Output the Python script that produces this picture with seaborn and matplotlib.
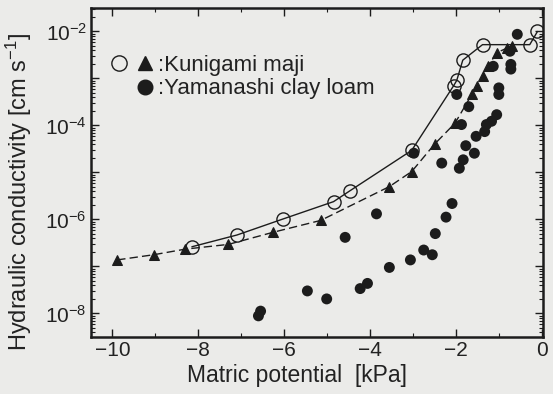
import numpy as np
import pandas as pd
import matplotlib
matplotlib.use("Agg")
import matplotlib.pyplot as plt
import seaborn as sns
from matplotlib.ticker import LogLocator, FuncFormatter, MultipleLocator, NullFormatter, FixedLocator
from matplotlib.lines import Line2D
from matplotlib.legend_handler import HandlerTuple

# Kunigami maji (open circles, solid line)
kuni_open_x = [-8.15, -7.1, -6.03, -4.85, -4.47, -3.03, -2.05, -1.98, -1.84, -1.38, -0.28, -0.1]
kuni_open_logk = [-6.58, -6.33, -5.99, -5.62, -5.39, -4.53, -3.15, -3.04, -2.61, -2.28, -2.28, -2.0]

# Kunigami maji (filled triangles, dashed line)
kuni_tri_x = [-9.89, -9.04, -8.3, -7.3, -6.25, -5.15, -3.55, -3.03, -2.49, -2.02,
              -1.63, -1.5, -1.37, -1.25, -1.05, -0.8, -0.7]
kuni_tri_logk = [-6.86, -6.75, -6.63, -6.53, -6.27, -6.02, -5.3, -4.98, -4.39, -3.95,
                 -3.34, -3.15, -2.95, -2.74, -2.45, -2.35, -2.3]

# Yamanashi clay loam (filled circles)
yama_x = [-6.6, -6.55, -5.46, -5.01, -4.58, -4.23, -4.06, -3.85, -3.55, -3.06, -2.98,
          -2.75, -2.55, -2.48, -2.33, -2.23, -2.09, -1.98, -1.92, -1.87, -1.83, -1.77,
          -1.7, -1.57, -1.53, -1.33, -1.29, -1.17, -1.13, -1.05, -1.0, -1.0, -0.74,
          -0.72, -0.72, -0.57]
yama_logk = [-8.05, -7.95, -7.52, -7.69, -6.38, -7.47, -7.36, -5.88, -7.02, -6.86, -4.59,
             -6.65, -6.75, -6.3, -4.8, -5.95, -5.66, -3.34, -4.91, -3.98, -4.73, -4.43,
             -3.6, -4.59, -4.23, -4.13, -3.98, -3.91, -2.74, -3.77, -3.2, -3.34, -2.42,
             -2.7, -2.8, -2.06]

x_ticks = [-10, -8, -6, -4, -2, 0]
x_tick_labels = ["\u221210", "\u22128", "\u22126", "\u22124", "\u22122", "0"]
y_tick_exps = [-8, -7, -6, -5, -4, -3, -2]
x_label = "Matric potential  [kPa]"
y_label = "Hydraulic conductivity [cm s$^{-1}$]"
legend_labels = [":Kunigami maji", ":Yamanashi clay loam"]

sns.set_style("white")
plt.rcParams['font.family'] = ['Liberation Sans', 'DejaVu Sans']
plt.rcParams['mathtext.fontset'] = 'custom'
plt.rcParams['mathtext.rm'] = 'Liberation Sans'
plt.rcParams['mathtext.it'] = 'Liberation Sans'
plt.rcParams['mathtext.default'] = 'regular'

ink = '#1c1c1c'
bg = '#ebebe9'
fig = plt.figure(figsize=(5.53, 3.94), dpi=100, facecolor=bg)
ax = fig.add_axes([0.1646, 0.1447, 0.8174, 0.835])
ax.set_facecolor(bg)

df_open = pd.DataFrame({"x": kuni_open_x, "k": 10.0 ** np.array(kuni_open_logk)})
df_tri = pd.DataFrame({"x": kuni_tri_x, "k": 10.0 ** np.array(kuni_tri_logk)})
df_yama = pd.DataFrame({"x": yama_x, "k": 10.0 ** np.array(yama_logk)})

sns.lineplot(data=df_tri, x="x", y="k", estimator=None, sort=False, ax=ax,
             color=ink, lw=1.0, linestyle=(0, (6, 3)), marker='^', markersize=7.5,
             markerfacecolor=ink, markeredgecolor=ink)
sns.lineplot(data=df_open, x="x", y="k", estimator=None, sort=False, ax=ax,
             color=ink, lw=1.0, marker='o', markersize=9.5,
             markerfacecolor='none', markeredgecolor=ink, markeredgewidth=1.0)
sns.scatterplot(data=df_yama, x="x", y="k", ax=ax, color=ink, s=62,
                edgecolor='none', zorder=3)

ax.set_yscale('log')
ax.set_xlim(-10.5, 0.03)
ax.set_ylim(10 ** -8.5, 10 ** -1.5)

ax.set_xticks(x_ticks)
ax.set_xticklabels(x_tick_labels)
ax.xaxis.set_minor_locator(MultipleLocator(1))

ax.yaxis.set_major_locator(FixedLocator([10.0 ** e for e in y_tick_exps]))
ax.yaxis.set_major_formatter(FuncFormatter(
    lambda v, p: ("10$^{\u2212%d}$" % -int(round(np.log10(v))))
    if int(round(np.log10(v))) % 2 == 0 else ""))
ax.yaxis.set_minor_locator(LogLocator(base=10, subs=np.arange(2, 10), numticks=20))
ax.yaxis.set_minor_formatter(NullFormatter())

ax.tick_params(which='both', direction='in', top=True, right=True, bottom=True, left=True,
               colors=ink, labelcolor='#222222')
ax.tick_params(which='major', length=6, width=1.0, labelsize=15, pad=3)
ax.tick_params(which='minor', length=3, width=0.8)
for s in ax.spines.values():
    s.set_linewidth(1.8)
    s.set_color(ink)

ax.set_xlabel(x_label, fontsize=16.5, color='#222222')
ax.xaxis.set_label_coords(0.456, -0.083, transform=ax.transAxes)
ax.xaxis.label.set_va('top')
ax.set_ylabel(y_label, fontsize=17, color='#222222')
ax.yaxis.set_label_coords(-0.126, 0.44, transform=ax.transAxes)

h_open = Line2D([], [], marker='o', linestyle='none', markersize=11, markerfacecolor='none',
                markeredgecolor=ink, markeredgewidth=1.0)
h_tri = Line2D([], [], marker='^', linestyle='none', markersize=10, color=ink)
h_blank = Line2D([], [], marker='none', linestyle='none')
h_fill = Line2D([], [], marker='o', linestyle='none', markersize=10.5, color=ink)
ax.legend([(h_open, h_tri), (h_blank, h_fill)], legend_labels,
          handler_map={tuple: HandlerTuple(ndivide=None, pad=0.0)},
          loc='upper left', bbox_to_anchor=(0.0, 0.905), frameon=False,
          fontsize=16, handlelength=2.3, handletextpad=0.0, labelspacing=0.12,
          borderaxespad=0.3, labelcolor='#222222')

fig.savefig("out.png", dpi=100, facecolor=bg)
